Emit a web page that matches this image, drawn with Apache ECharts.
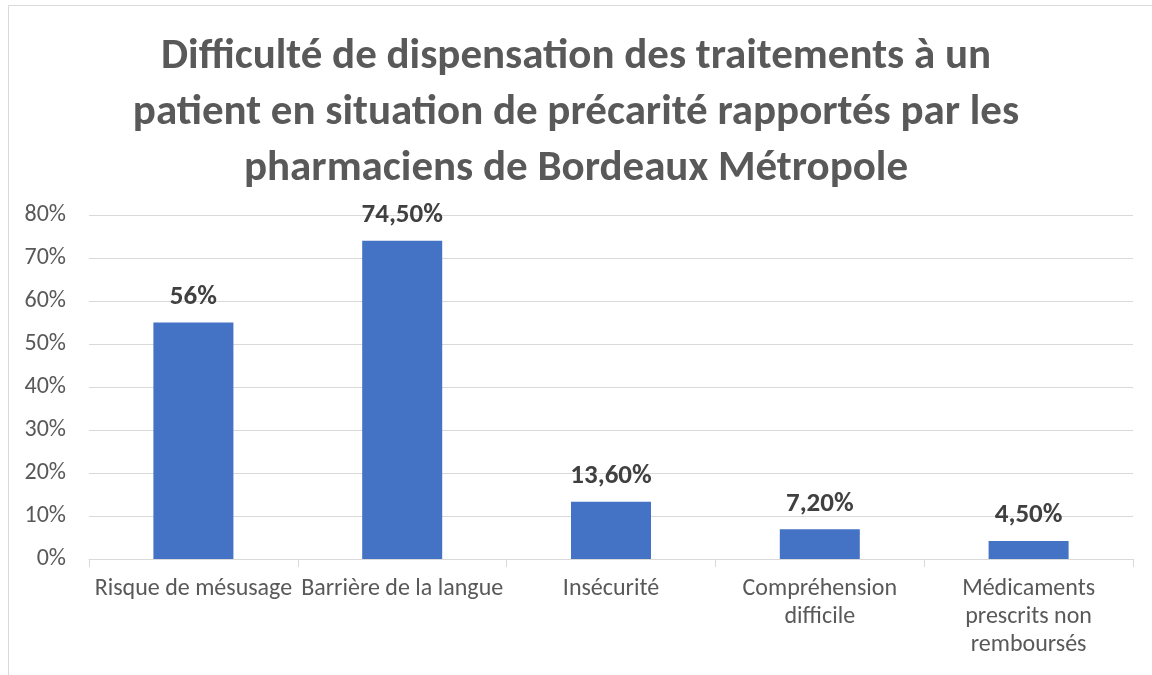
<!DOCTYPE html>
<html>
<head>
<meta charset="utf-8">
<script src="https://cdn.jsdelivr.net/npm/echarts@6/dist/echarts.min.js"></script>
<style>
  html, body { margin: 0; padding: 0; background: #fff; }
  #chart { width: 1152px; height: 675px; }
</style>
</head>
<body>
<div id="chart"></div>
<script>
var titleText = 'Difficulté de dispensation des traitements à un\npatient en situation de précarité rapportés par les\npharmaciens de Bordeaux Métropole';
var categories = ['Risque de mésusage', 'Barrière de la langue', 'Insécurité', 'Compréhension\ndifficile', 'Médicaments\nprescrits non\nremboursés'];
var barValues = [55, 74, 13.3, 6.9, 4.2];
var barLabels = ['56%', '74,50%', '13,60%', '7,20%', '4,50%'];

var fontStack = 'Carlito, "Liberation Sans Narrow", "Open Sans", sans-serif';

var chart = echarts.init(document.getElementById('chart'));
chart.setOption({
    animation: false,
    graphic: [{
        type: 'rect',
        shape: { x: 8.5, y: 5.5, width: 1200, height: 700 },
        style: { fill: 'none', stroke: '#d9d9d9', lineWidth: 1 }
    }],
    title: {
        text: titleText,
        left: 'center',
        top: 24,
        textStyle: {
            fontFamily: fontStack,
            fontSize: 43,
            fontWeight: 'bold',
            color: '#595959',
            lineHeight: 56
        }
    },
    grid: {
        left: 89,
        right: 19,
        top: 215,
        bottom: 116
    },
    xAxis: {
        type: 'category',
        data: categories,
        axisLine: { lineStyle: { color: '#d9d9d9' } },
        axisTick: { show: true, length: 8, lineStyle: { color: '#d9d9d9' } },
        axisLabel: {
            interval: 0,
            margin: 16,
            color: '#595959',
            fontFamily: fontStack,
            fontSize: 24,
            lineHeight: 28
        }
    },
    yAxis: {
        type: 'value',
        min: 0,
        max: 80,
        interval: 10,
        axisLine: { show: false },
        axisTick: { show: false },
        splitLine: { lineStyle: { color: '#d9d9d9' } },
        axisLabel: {
            formatter: '{value}%',
            margin: 23,
            color: '#595959',
            fontFamily: fontStack,
            fontSize: 24
        }
    },
    series: [{
        type: 'bar',
        data: barValues,
        barWidth: 80,
        itemStyle: { color: '#4472C4' },
        label: {
            show: true,
            position: 'top',
            distance: 12,
            formatter: function (p) { return barLabels[p.dataIndex]; },
            color: '#404040',
            fontFamily: fontStack,
            fontSize: 27,
            fontWeight: 'bold'
        }
    }]
});
</script>
</body>
</html>
